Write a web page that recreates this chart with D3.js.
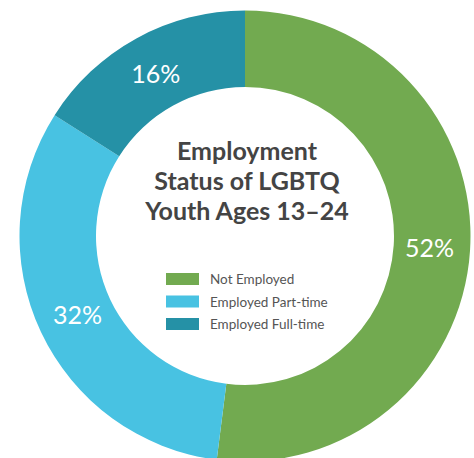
<!DOCTYPE html>
<html>
<head>
<meta charset="utf-8">
<script src="https://cdn.jsdelivr.net/npm/d3@7"></script>
<style>
  html, body { margin: 0; padding: 0; background: #fff; }
  svg { display: block; }
</style>
</head>
<body>
<svg id="chart" width="474" height="458"></svg>
<script>
// Employment status shares (percent)
const categories = ["Not Employed", "Employed Part-time", "Employed Full-time"];
const values = [52, 32, 16];
const colors = ["#72aa50", "#48c2e2", "#2591a6"];
const titleLines = ["Employment", "Status of LGBTQ", "Youth Ages 13–24"];

const width = 474, height = 458;
const cx = 245, cy = 236;
const outerR = 225.5, innerR = 149;

const svg = d3.select("#chart");
const g = svg.append("g").attr("transform", `translate(${cx},${cy})`);

const pie = d3.pie().sort(null).value(d => d.value);
const data = categories.map((c, i) => ({ name: c, value: values[i], color: colors[i] }));
const arcs = pie(data);

const arc = d3.arc().innerRadius(innerR).outerRadius(outerR);
const labelArc = d3.arc().innerRadius(185).outerRadius(185);

g.selectAll("path.slice")
  .data(arcs)
  .join("path")
  .attr("class", "slice")
  .attr("d", arc)
  .attr("fill", d => d.data.color);

// percentage labels on the ring
g.selectAll("text.pct")
  .data(arcs)
  .join("text")
  .attr("class", "pct")
  .attr("transform", d => `translate(${labelArc.centroid(d)})`)
  .attr("text-anchor", "middle")
  .attr("dy", "0.36em")
  .attr("fill", "#fff")
  .style("font-family", "Lato, sans-serif")
  .style("font-weight", 400)
  .style("font-size", "25px")
  .text(d => d.data.value + "%");

// centre title
const title = g.append("text")
  .attr("text-anchor", "middle")
  .attr("fill", "#444444")
  .style("font-family", "Lato, sans-serif")
  .style("font-weight", 700)
  .style("font-size", "25px");
title.selectAll("tspan")
  .data(titleLines)
  .join("tspan")
  .attr("x", 2)
  .attr("y", (d, i) => -76 + i * 30)
  .text(d => d);

// legend
const legend = g.append("g").attr("transform", "translate(-79,37)");
const rows = legend.selectAll("g.row")
  .data(data)
  .join("g")
  .attr("class", "row")
  .attr("transform", (d, i) => `translate(0,${i * 22.5})`);
rows.append("rect")
  .attr("width", 33)
  .attr("height", 12)
  .attr("fill", d => d.color);
rows.append("text")
  .attr("x", 44)
  .attr("y", 11)
  .attr("fill", "#555555")
  .style("font-family", "Lato, sans-serif")
  .style("font-size", "13.5px")
  .text(d => d.name);
</script>
</body>
</html>
